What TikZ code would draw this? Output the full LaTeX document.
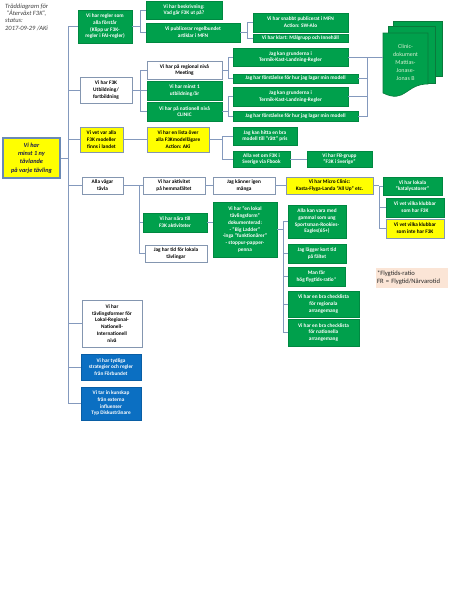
\documentclass[tikz,border=0pt]{standalone}
\usepackage{fontspec}
\setmainfont{Carlito}
\definecolor{gr}{HTML}{00A04C}
\definecolor{grd}{HTML}{0A7A3C}
\definecolor{bl}{HTML}{0B6FC2}
\definecolor{yl}{HTML}{FFFF00}
\definecolor{ln}{HTML}{8499BD}
\definecolor{wbd}{HTML}{8496B0}
\definecolor{peach}{HTML}{FBE5D6}
\definecolor{doctxt}{HTML}{D4EFD0}
\definecolor{rootbd}{HTML}{6A89B5}
\definecolor{roottx}{HTML}{1A1A50}
\tikzset{
  box/.style={rectangle, inner sep=0.5pt, align=center, font=\fontsize{5.3}{6.7}\selectfont\bfseries},
  gbox/.style={box, fill=gr, draw=gr!85!black, line width=0.4pt, text=white},
  wbox/.style={box, fill=white, draw=wbd, line width=0.6pt, text=black},
  ybox/.style={box, fill=yl, draw=wbd, line width=0.6pt, text=black},
  bbox/.style={box, fill=bl, draw=bl!85!black, line width=0.4pt, text=white},
  sz/.style 2 args={minimum width=#1pt, minimum height=#2pt},
  conn/.style={draw=ln, line width=0.7pt},
  page/.style={fill=gr, draw=grd, line width=0.6pt}
}
\begin{document}
\begin{tikzpicture}[x=1pt,y=-1pt]
\useasboundingbox (0,0) rectangle (450,600);
\fill[white] (0,0) rectangle (450,600);

% title
\node[anchor=north west, inner sep=0pt, align=left, font=\fontsize{6.5}{7.3}\selectfont\itshape, text=black!75] (title) at (5,3.5)
  {Träddiagram för\\\hspace{2pt}"Återväxt F3K",\\status:\\2017-09-29 /AKi};

% root
\node[box, sz={57}{40}, fill=yl, draw=rootbd, line width=1.3pt, text=roottx, font=\fontsize{6.3}{8.3}\selectfont\bfseries\itshape] (r) at (31.5,158)
  {Vi har\\minst 1 ny\\tävlande\\på varje tävling};

% level 1
\node[gbox, sz={54}{33}] (c1) at (105,26.5) {Vi har regler som\\alla förstår\\(Klipp ur F3K-\\regler i FAI-regler)};
\node[wbox, sz={52}{26}] (c2) at (106,90) {Vi har F3K\\Utbildning/\\fortbildning};
\node[ybox, sz={43}{25}] (c3) at (101.5,139.5) {Vi vet var alla\\F3K modeller\\finns i landet};
\node[wbox, sz={41}{17}] (c4) at (102.5,185.5) {Alla vägar\\tävla};
\node[wbox, sz={60}{47}] (c5) at (112,323.5) {Vi har\\tävlingsformer för\\Lokal-Regional-\\Nationell-\\Internationell\\nivå};
\node[bbox, sz={60}{26}] (c6) at (111,367) {Vi har tydliga\\strategier och regler\\från Förbundet};
\node[bbox, sz={60}{33}] (c7) at (111,403.5) {Vi tar in kunskap\\från externa\\influenser\\Typ Diskustränare};

% under c1
\node[gbox, sz={76}{18}] (c1a) at (184,10) {Vi har beskrivning:\\Vad går F3K ut på?};
\node[gbox, sz={94}{19}] (c1b) at (193,32.5) {Vi publicerar regelbundet\\artiklar i MFN};
\node[gbox, sz={95}{19}] (c1b1) at (300.5,22.5) {Vi har snabbt publicerat i MFN\\Action: SW-Alo};
\node[gbox, sz={95}{8}] (c1b2) at (300.5,38) {Vi har klart: Målgrupp och Innehåll};

% under c2
\node[wbox, sz={75}{18}] (c2a) at (184.5,70) {Vi har på regional nivå\\Meeting};
\node[gbox, sz={75}{19}] (c2b) at (184.5,90.5) {Vi har minst 1\\utbildning/år};
\node[gbox, sz={75}{19}] (c2c) at (184.5,111.5) {Vi har på nationell nivå\\CLINIC};
\node[gbox, sz={115}{18}] (d1) at (290.5,57) {Jag kan grunderna i\\Termik-Kast-Landning-Regler};
\node[gbox, sz={125}{9}] (d2) at (295.5,78.5) {Jag har förståelse för hur jag lagar min modell};
\node[gbox, sz={115}{19}] (d3) at (290.5,96.5) {Jag kan grunderna i\\Termik-Kast-Landning-Regler};
\node[gbox, sz={125}{10}] (d4) at (295.5,116.5) {Jag har förståelse för hur jag lagar min modell};

% clinic document
\path[page] (393,21) rectangle (442,76);
\path[page] (388,26.5) rectangle (435,83);
\path[page] (383,33) -- (428,33) -- (428,84) .. controls (405.5,84) and (405.5,104) .. (383,93) -- cycle;
\node[font=\fontsize{6}{7.8}\selectfont, text=doctxt, align=center, inner sep=0pt] (doc) at (405.5,62.5) {Clinic-\\dokument\\Mattias-\\Jonase-\\Jonas B};
\coordinate (docin) at (383,57);

% under c3
\node[ybox, sz={62}{25}] (c3a) at (178,139.5) {Vi har en lista över\\alla F3Kmodellägare\\Action: AKi};
\node[gbox, sz={64}{18}] (e1) at (265,136) {Jag kan hitta en bra\\modell till "rätt" pris};
\node[gbox, sz={57}{16}] (e2) at (261.5,159) {Alla vet om F3K i\\Sverige via Fbook};
\node[gbox, sz={65}{16}] (e3) at (339.5,159) {Vi har FB-grupp\\"F3K i Sverige"};

% under c4
\node[wbox, sz={62}{17}] (f1) at (174,185.5) {Vi har aktivitet\\på hemmafältet};
\node[gbox, sz={64}{19}] (f2) at (175,222.5) {Vi har nära till\\F3K aktiviteter};
\node[wbox, sz={62}{17}] (f3) at (176,253.5) {Jag har tid för lokala\\tävlingar};
\node[wbox, sz={62}{17}] (g1) at (244,185.5) {Jag känner igen\\många};
\node[ybox, sz={87}{17}] (g2) at (329.5,185.5) {Vi har Micro Clinic:\\Kasta-Flyga-Landa "All Up" etc.};
\node[gbox, sz={59}{18}] (h1) at (412.5,186) {Vi har lokala\\"katalysatorer"};
\node[gbox, sz={58}{19}] (h2) at (415,207.5) {Vi vet vilka klubbar\\som har F3K};
\node[ybox, sz={58}{19}] (h3) at (415,228.5) {Vi vet vilka klubbar\\som inte har F3K};
\node[gbox, sz={64}{55}] (i1) at (245,229.5) {Vi har "en lokal\\tävlingsform"\\dokumenterad:\\- "Big Ladder"\\-inga "funktionärer"\\- stoppur-papper-\\penna};
\node[gbox, sz={58}{33}] (j1) at (317,221.5) {Alla kan vara med\\gammal som ung\\Sportsman-Rookies-\\Eagles(65+)};
\node[gbox, sz={58}{19}] (j2) at (317,253.5) {Jag lägger kort tid\\på fältet};
\node[gbox, sz={57}{19}] (j3) at (316.5,276.5) {Man får\\hög flygtids-ratio*};
\node[gbox, sz={71}{26}] (j4) at (323.5,304) {Vi har en bra checklista\\för regionala\\arrangemang};
\node[gbox, sz={71}{27}] (j5) at (323.5,332.5) {Vi har en bra checklista\\för nationella\\arrangemang};

% note
\node[rectangle, fill=peach, inner sep=1pt, text width=70pt, minimum height=20pt, align=left, font=\fontsize{6.6}{8}\selectfont, text=black!85] (note) at (412,278) {*Flygtids-ratio\\FR = Flygtid/Närvarotid};

% connectors
\coordinate (T) at (68,0);
\coordinate (B1) at (140,0);
\coordinate (B2) at (140,0);
\coordinate (B3) at (247,0);
\coordinate (B4) at (228,0);
\coordinate (B5) at (367,0);
\coordinate (B6) at (222,0);
\coordinate (B7) at (139,0);
\coordinate (B8) at (379,0);
\coordinate (B9) at (283,0);

\draw[conn] (r.east) -- (r.east -| T);
\draw[conn] (c1.west -| T) -- (c7.west -| T);
\foreach \n in {c1,c2,c3,c4,c5,c6,c7} \draw[conn] (\n.west -| T) -- (\n.west);

\draw[conn] (c1.east) -- (c1.east -| B1);
\draw[conn] (c1a.west) -| (c1b.west -| B1) -- (c1b.west);
\draw[conn] (c1b.east) -- (c1b.east -| B3);
\draw[conn] (c1b1.west) -| (c1b2.west -| B3) -- (c1b2.west);

\draw[conn] (c2.east) -- (c2.east -| B2);
\draw[conn] (c2a.west) -| (c2c.west -| B2) -- (c2c.west);
\draw[conn] (c2b.west -| B2) -- (c2b.west);
\draw[conn] (c2a.east) -- (c2a.east -| B4);
\draw[conn] (d1.west) -| (d2.west -| B4) -- (d2.west);
\draw[conn] (c2c.east) -- (c2c.east -| B4);
\draw[conn] (d3.west) -| (d4.west -| B4) -- (d4.west);

\draw[conn] (d1.east) -- (docin);
\draw[conn] (d1.east -| B5) -- (d4.east -| B5);
\foreach \n in {d2,d3,d4} \draw[conn] (\n.east) -- (\n.east -| B5);

\draw[conn] (c3.east) -- (c3a.west);
\draw[conn] (c3a.east) -- (c3a.east -| B6);
\draw[conn] (e1.west) -| (e2.west -| B6) -- (e2.west);
\draw[conn] (e2.east) -- (e3.west);

\draw[conn] (c4.east) -- (c4.east -| B7);
\draw[conn] (f1.west) -| (f3.west -| B7) -- (f3.west);
\draw[conn] (f2.west -| B7) -- (f2.west);
\draw[conn] (f1.east) -- (g1.west);
\draw[conn] (g1.east) -- (g2.west);
\draw[conn] (g2.east) -- (g2.east -| B8);
\draw[conn] (h1.west) -| (h3.west -| B8) -- (h3.west);
\draw[conn] (h2.west -| B8) -- (h2.west);

\draw[conn] (f2.east) -- (f2.east -| i1.west);
\draw[conn] (i1.east) -- (i1.east -| B9);
\draw[conn] (j1.west) -| (j5.west -| B9) -- (j5.west);
\foreach \n in {j2,j3,j4} \draw[conn] (\n.west -| B9) -- (\n.west);
\end{tikzpicture}
\end{document}
